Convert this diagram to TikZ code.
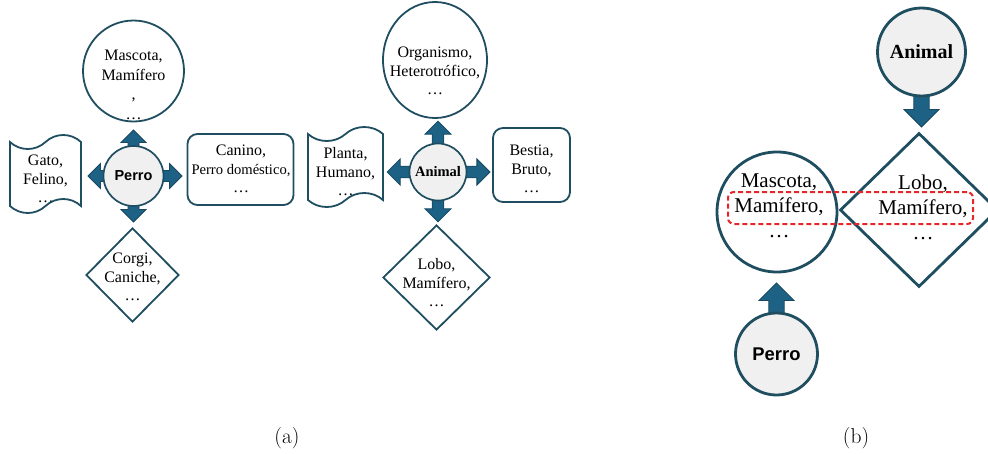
\documentclass[tikz,border=0pt]{standalone}
\usepackage{fontspec}
\usetikzlibrary{shapes.geometric,shapes.symbols}
\newfontfamily\tnr{Liberation Serif}
\newfontfamily\arl{Liberation Sans}

\definecolor{edge}{HTML}{1F4E60}
\definecolor{arrfill}{HTML}{1D6184}
\definecolor{arredge}{HTML}{17485F}
\definecolor{ctrfill}{HTML}{F0F0F0}
\definecolor{hl}{HTML}{E8262A}

\tikzset{
  shp/.style={draw=edge, line width=1.8pt, fill=white, inner sep=0pt},
  shpB/.style={shp, line width=2.8pt},
  ctr/.style={circle, draw=edge, fill=ctrfill, inner sep=0pt},
  txtA/.style={font=\tnr\fontsize{16}{18.5}\selectfont, align=center, inner sep=0pt},
  txtB/.style={font=\tnr\fontsize{21}{25}\selectfont, align=center, inner sep=0pt},
  tapeA/.style={shp, tape, tape bend top=in and out, tape bend bottom=in and out, tape bend height=14pt},
  captxt/.style={font=\fontsize{21.5}{25}\selectfont, inner sep=0pt},
  arrstyle/.style={fill=arrfill, draw=arredge, line width=0.8pt, line join=miter},
  blockarr/.pic={
    \filldraw[arrstyle] (0,-5.5) -- (#1-12.5,-5.5) -- (#1-12.5,-12.5) -- (#1,0)
      -- (#1-12.5,12.5) -- (#1-12.5,5.5) -- (0,5.5) -- cycle;
  },
}

\begin{document}
\begin{tikzpicture}[x=1pt, y=-1pt]
\useasboundingbox (0,0) rectangle (988,453);
\clip (0,0) rectangle (988,453);

% ---------- (a) left: Perro ----------
\coordinate (perroC) at (133.5,176);
\pic[rotate=90]  at (perroC) {blockarr=46};
\pic[rotate=-90] at (perroC) {blockarr=46};
\pic[rotate=180] at (perroC) {blockarr=45.5};
\pic[rotate=0]   at (perroC) {blockarr=48.5};
\node[ctr, line width=1.7pt, minimum size=60pt,
      font=\arl\bfseries\fontsize{14.5}{17}\selectfont] (perroA) at (perroC) {Perro};

\node[shp, circle, minimum size=101pt] (mascotaA) at (133.5,71) {};
\node[txtA, font=\tnr\fontsize{16}{19.5}\selectfont] (mascotaAt) at (133.5,85)
  {Mascota,\\Mamífero\\,\\\ldots};

\node[tapeA, minimum width=71pt, minimum height=78pt,
      path picture={\node[txtA] at ([yshift=-5pt]path picture bounding box.center)
        {Gato,\\Felino,\\\ldots};}] (gatoA) at (45.5,174) {};

\node[shp, rectangle, rounded corners=10pt, minimum width=106pt, minimum height=71pt]
  (caninoA) at (240.5,169.5) {};
\node[txtA] (caninoAt) at (241,169)
  {Canino,\\{\fontsize{14.6}{18.5}\selectfont Perro doméstico,}\\\ldots};

\node[shp, diamond, minimum width=93pt, minimum height=94pt] (corgiA) at (132.5,275) {};
\node[txtA] (corgiAt) at (132.5,277) {Corgi,\\Caniche,\\\ldots};

% ---------- (a) right: Animal ----------
\coordinate (animalC) at (438,172);
\pic[rotate=90,  scale=1.05] at (animalC) {blockarr=48.5};
\pic[rotate=-90, scale=1.05] at (animalC) {blockarr=47.5};
\pic[rotate=180, scale=1.05] at (animalC) {blockarr=48.5};
\pic[rotate=0,   scale=1.05] at (animalC) {blockarr=49.5};
\node[ctr, line width=1.7pt, minimum size=57pt,
      font=\tnr\bfseries\fontsize{14.5}{17}\selectfont] (animalA) at (animalC) {Animal};

\node[shp, ellipse, minimum width=104pt, minimum height=116pt] (organismoA) at (435,60) {};
\node[txtA] (organismoAt) at (435,71) {Organismo,\\Heterotrófico,\\\ldots};

\node[tapeA, minimum width=75pt, minimum height=80pt,
      path picture={\node[txtA] at ([yshift=-5pt]path picture bounding box.center)
        {Planta,\\Humano,\\\ldots};}] (plantaA) at (345.5,167) {};

\node[shp, rectangle, rounded corners=10pt, minimum width=77pt, minimum height=74pt]
  (bestiaA) at (531.5,165) {};
\node[txtA] (bestiaAt) at (531.5,169) {Bestia,\\Bruto,\\\ldots};

\node[shp, diamond, minimum width=107pt, minimum height=105pt] (loboA) at (436.5,277.5) {};
\node[txtA] (loboAt) at (436.5,283) {Lobo,\\Mamífero,\\\ldots};

% ---------- (b) ----------
\coordinate (animalBC) at (921.5,52);
\coordinate (perroBC) at (776.5,354);
\pic[rotate=-90, scale=1.4] at (animalBC) {blockarr=53.6};
\pic[rotate=90,  scale=1.4] at (perroBC) {blockarr=50.7};

\node[ctr, line width=2.8pt, minimum size=88pt,
      font=\tnr\bfseries\fontsize{20}{24}\selectfont] (animalB) at (animalBC) {Animal};
\node[ctr, line width=2.8pt, minimum size=82pt,
      font=\arl\bfseries\fontsize{18.4}{22}\selectfont] (perroB) at (perroBC) {Perro};

\node[shpB, diamond, minimum width=158pt, minimum height=154pt] (loboB) at (919,210) {};
\node[shpB, circle, minimum size=120pt] (mascotaB) at (777,212) {};
\node[txtB] (mascotaBt) at (779,206) {Mascota,\\Mamífero,\\\ldots};
\node[txtB] (loboBt) at (923,207) {Lobo,\\Mamífero,\\\ldots};

\node[draw=hl, line width=2pt, dash pattern=on 5pt off 3pt, rounded corners=6pt,
      minimum width=245pt, minimum height=32pt, inner sep=0pt] (shared) at (850.5,208) {};

% ---------- captions ----------
\node[captxt] (capa) at (287,438) {(a)};
\node[captxt] (capb) at (856,438) {(b)};
\end{tikzpicture}
\end{document}
